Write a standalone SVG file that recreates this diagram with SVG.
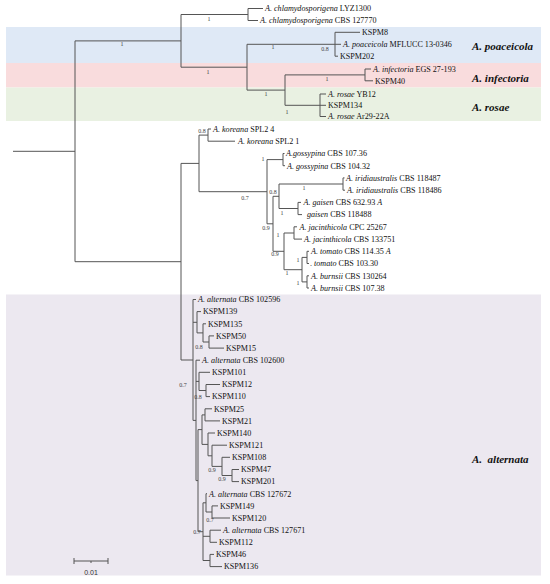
<svg xmlns="http://www.w3.org/2000/svg" width="550" height="584" viewBox="0 0 550 584">
<style>
.leaf text{font-family:"Liberation Serif","Times New Roman",serif;font-size:8.1px;fill:#111}
.i{font-style:italic}
.sup{font-family:"Liberation Serif","Times New Roman",serif;font-size:6px;fill:#444;text-anchor:middle}
.clade text{font-family:"Liberation Serif","Times New Roman",serif;font-size:11px;font-weight:bold;font-style:italic;fill:#111}
.br{fill:none;stroke:#555;stroke-width:1}
</style>
<rect width="550" height="584" fill="#fff"/>
<g id="bands">
<rect x="6" y="27" width="535" height="36" fill="#dfe9f6"/>
<rect x="6" y="63" width="535" height="24.5" fill="#f9dcdd"/>
<rect x="6" y="87.5" width="535" height="33.5" fill="#e9f1e2"/>
<rect x="6" y="294.5" width="535" height="281" fill="#ece8f0"/>
</g>
<g id="connectors">
<path class="br" d="M13 151.3H75M75 40.9V261.7M75 40.9H181M181 14.5V67.2M181 14.5H248M248 8.5V20.5M248 8.5H263M248 20.5H258M181 67.2H247M247 44.3V90.1M247 44.3H335M335 32.3V56.2M335 32.3H360M335 44.3H341M335 56.2H338M247 90.1H285M285 74.9V105.3M285 74.9H365M365 69V80.8M365 69H371M365 80.8H373M285 105.3H320M320 94V116.5M320 94H326M320 105.3H326M320 116.5H326"/>
<path class="br" d="M75 261.7H181M181 163.4V360M181 163.4H199M199 135.1V191.7M199 135.1H208M208 129V141.2M208 129H211M208 141.2H235M199 191.7H267M267 159.6V223.8M267 159.6H283M283 153.5V165.7M283 153.5H284.5M283 165.7H285M267 223.8H273M273 196.3V251.3M273 196.3H279M279 184V208.5M279 184H343M343 177.9V190.2M343 177.9H344.5M343 190.2H345M279 208.5H298M298 202.4V214.6M298 202.4H301M298 214.6H302M273 251.3H284M284 233V269.7M284 233H294M294 226.8V239.1M294 226.8H297M294 239.1H302M284 269.7H302M302 257.4V281.9M302 257.4H307M307 251.3V263.5M307 251.3H309M307 263.5H309M302 281.9H307M307 275.8V288M307 275.8H309M307 288H309"/>
<path class="br" d="M181 360H193M193 299.5V420.4M193 299.5H196M193 322.3H197M197 311.6V332.9M197 311.6H201M197 332.9H203M203 323.8V342M203 323.8H206M203 342H209M209 335.9V348.1M209 335.9H214M209 348.1H224M193 420.4H196M196 360.2V480.6M196 360.2H200M196 381.4H199M199 372.3V390.5M199 372.3H210M199 390.5H206M206 384.5V396.6M206 384.5H220M206 396.6H210M196 480.6H198M198 429.6V531.7M198 429.6H202M202 414.9V444.4M202 414.9H205M205 408.8V420.9M205 408.8H212M205 420.9H220M202 444.4H208M208 433V455.8M208 433H215M208 455.8H212M212 445.2V466.4M212 445.2H227M212 466.4H222M222 457.3V475.5M222 457.3H230M222 475.5H232M232 469.5V481.6M232 469.5H239M232 481.6H239M198 531.7H203M203 502.8V560.5M203 502.8H206M206 493.7V512M206 493.7H207M206 512H212M212 505.9V518M212 505.9H218M212 518H230M203 536.3H210M210 530.2V542.3M210 530.2H221M210 542.3H217M203 560.5H210M210 554.4V566.6M210 554.4H214M210 566.6H222"/>
</g>
<g id="support">
<text class="sup" x="122" y="46">1</text>
<text class="sup" x="209" y="21">1</text>
<text class="sup" x="208" y="74">1</text>
<text class="sup" x="273" y="49">1</text>
<text class="sup" x="325" y="51">0.8</text>
<text class="sup" x="327" y="81">1</text>
<text class="sup" x="266" y="96">1</text>
<text class="sup" x="287" y="114">1</text>
<text class="sup" x="202" y="133">0.8</text>
<text class="sup" x="263" y="161">1</text>
<text class="sup" x="245" y="200">0.7</text>
<text class="sup" x="304" y="190">1</text>
<text class="sup" x="273" y="194">0.8</text>
<text class="sup" x="282" y="215">1</text>
<text class="sup" x="266" y="230">0.9</text>
<text class="sup" x="278" y="237">1</text>
<text class="sup" x="275" y="256">0.9</text>
<text class="sup" x="298" y="262">1</text>
<text class="sup" x="287" y="275">1</text>
<text class="sup" x="298" y="285">1</text>
<text class="sup" x="199" y="349">0.8</text>
<text class="sup" x="183" y="387">0.7</text>
<text class="sup" x="198" y="399">0.8</text>
<text class="sup" x="212" y="472">0.9</text>
<text class="sup" x="222" y="481">0.9</text>
<text class="sup" x="210" y="522">0.7</text>
<text class="sup" x="197" y="534">0.7</text>
</g>
<g class="leaf">
<g id="n1"><text x="265" y="11.3"><tspan class="i">A. chlamydosporigena</tspan> LYZ1300</text></g>
<g id="n2"><text x="260" y="23.3"><tspan class="i">A. chlamydosporigena</tspan> CBS 127770</text></g>
<g id="n3"><text x="362" y="35.1">KSPM8</text></g>
<g id="n4"><text x="343" y="47.1"><tspan class="i">A. poaceicola</tspan> MFLUCC 13-0346</text></g>
<g id="n5"><text x="340" y="59">KSPM202</text></g>
<g id="n6"><text x="373" y="71.8"><tspan class="i">A. infectoria</tspan> EGS 27-193</text></g>
<g id="n7"><text x="375" y="83.6">KSPM40</text></g>
<g id="n8"><text x="328" y="96.8"><tspan class="i">A. rosae</tspan> YB12</text></g>
<g id="n9"><text x="328" y="108.1">KSPM134</text></g>
<g id="n10"><text x="328" y="119.3"><tspan class="i">A. rosae</tspan> Ar29-22A</text></g>
<g id="n11"><text x="213" y="131.8"><tspan class="i">A. koreana</tspan> SPL2 4</text></g>
<g id="n12"><text x="238" y="144"><tspan class="i">A. koreana</tspan> SPL2 1</text></g>
<g id="n13"><text x="286" y="156.3"><tspan class="i">A.gossypina</tspan> CBS 107.36</text></g>
<g id="n14"><text x="287" y="168.5"><tspan class="i">A. gossypina</tspan> CBS 104.32</text></g>
<g id="n15"><text x="346" y="180.7"><tspan class="i">A. iridiaustralis</tspan> CBS 118487</text></g>
<g id="n16"><text x="347" y="193"><tspan class="i">A. iridiaustralis</tspan> CBS 118486</text></g>
<g id="n17"><text x="303.5" y="205.2"><tspan class="i">A. gaisen</tspan> CBS 632.93 <tspan class="i">A</tspan></text></g>
<g id="n18"><text x="307" y="217.4"><tspan class="i">gaisen</tspan> CBS 118488</text></g>
<g id="n19"><text x="299.5" y="229.6"><tspan class="i">A. jacinthicola</tspan> CPC 25267</text></g>
<g id="n20"><text x="304" y="241.9"><tspan class="i">A. jacinthicola</tspan> CBS 133751</text></g>
<g id="n21"><text x="311" y="254.1"><tspan class="i">A. tomato</tspan> CBS 114.35 <tspan class="i">A</tspan></text></g>
<g id="n22"><text x="310" y="266.3">. <tspan class="i">tomato</tspan> CBS 103.30</text></g>
<g id="n23"><text x="311" y="278.6"><tspan class="i">A. burnsii</tspan> CBS 130264</text></g>
<g id="n24"><text x="311" y="290.8"><tspan class="i">A. burnsii</tspan> CBS 107.38</text></g>
<g id="n25"><text x="198" y="302.3"><tspan class="i">A. alternata</tspan> CBS 102596</text></g>
<g id="n26"><text x="203" y="314.4">KSPM139</text></g>
<g id="n27"><text x="208" y="326.6">KSPM135</text></g>
<g id="n28"><text x="216" y="338.7">KSPM50</text></g>
<g id="n29"><text x="226" y="350.9">KSPM15</text></g>
<g id="n30"><text x="202" y="363"><tspan class="i">A. alternata</tspan> CBS 102600</text></g>
<g id="n31"><text x="212" y="375.1">KSPM101</text></g>
<g id="n32"><text x="222" y="387.3">KSPM12</text></g>
<g id="n33"><text x="212" y="399.4">KSPM110</text></g>
<g id="n34"><text x="214" y="411.6">KSPM25</text></g>
<g id="n35"><text x="222" y="423.7">KSPM21</text></g>
<g id="n36"><text x="217" y="435.8">KSPM140</text></g>
<g id="n37"><text x="229" y="448">KSPM121</text></g>
<g id="n38"><text x="232" y="460.1">KSPM108</text></g>
<g id="n39"><text x="241" y="472.3">KSPM47</text></g>
<g id="n40"><text x="241" y="484.4">KSPM201</text></g>
<g id="n41"><text x="209" y="496.5"><tspan class="i">A. alternata</tspan> CBS 127672</text></g>
<g id="n42"><text x="220" y="508.7">KSPM149</text></g>
<g id="n43"><text x="232" y="520.8">KSPM120</text></g>
<g id="n44"><text x="223" y="533"><tspan class="i">A. alternata</tspan> CBS 127671</text></g>
<g id="n45"><text x="219" y="545.1">KSPM112</text></g>
<g id="n46"><text x="216" y="557.2">KSPM46</text></g>
<g id="n47"><text x="224" y="569.4">KSPM136</text></g>
</g>
<g class="clade">
<g id="clade-poaceicola"><text x="472" y="50">A. poaceicola</text></g>
<g id="clade-infectoria"><text x="472" y="82">A. infectoria</text></g>
<g id="clade-rosae"><text x="472" y="110.5">A. rosae</text></g>
<g id="clade-alternata"><text x="472" y="463" xml:space="preserve">A.  alternata</text></g>
</g>
<g id="scale">
<path class="br" d="M74 561H108M74 558V564M108 558V564M91 561V563"/>
<text x="91" y="575" font-family="Liberation Sans, Arial, sans-serif" font-size="7" fill="#333" text-anchor="middle">0.01</text>
</g>
</svg>
